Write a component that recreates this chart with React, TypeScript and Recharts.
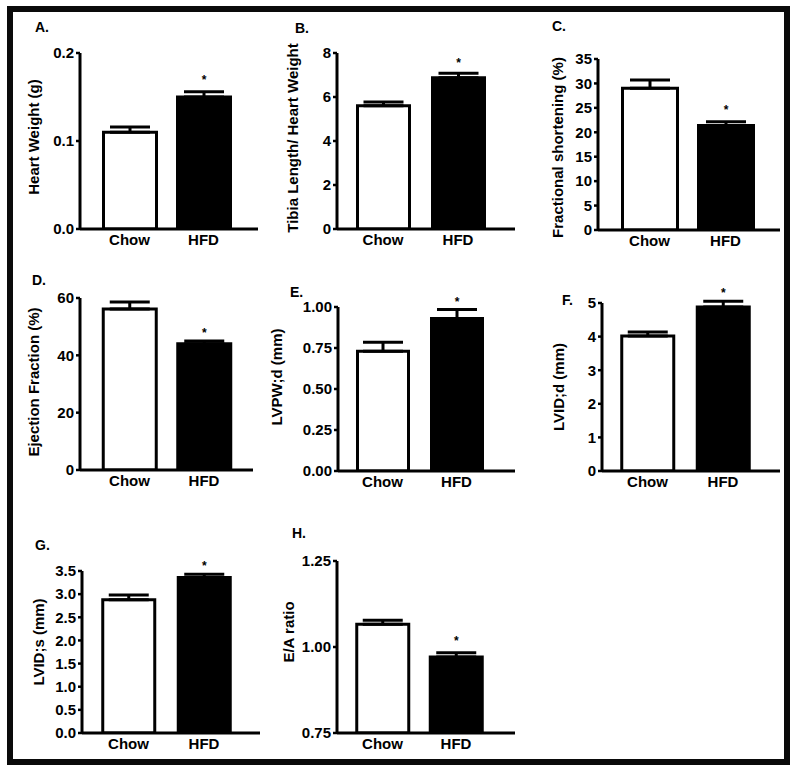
import React from 'react';
import { BarChart, Bar, XAxis, YAxis, ErrorBar, LabelList, Cell } from 'recharts';

// ---------- data ----------
const categories = ['Chow', 'HFD'];
const significance = ['', '*'];
const barFills = ['#ffffff', '#000000'];

const heartWeight = [0.11, 0.15];
const heartWeightErr = [0.006, 0.006];
const tibiaHeart = [5.6, 6.88];
const tibiaHeartErr = [0.17, 0.2];
const fractionalShortening = [29, 21.4];
const fractionalShorteningErr = [1.7, 0.75];
const ejectionFraction = [56.2, 44];
const ejectionFractionErr = [2.4, 1.0];
const lvpwd = [0.73, 0.93];
const lvpwdErr = [0.055, 0.055];
const lvidd = [4.02, 4.88];
const lviddErr = [0.12, 0.17];
const lvids = [2.88, 3.36];
const lvidsErr = [0.1, 0.07];
const eaRatio = [1.066, 0.971];
const eaRatioErr = [0.012, 0.012];

const ticksA = [0, 0.1, 0.2];
const ticksB = [0, 2, 4, 6, 8];
const ticksC = [0, 5, 10, 15, 20, 25, 30, 35];
const ticksD = [0, 20, 40, 60];
const ticksE = [0, 0.25, 0.5, 0.75, 1.0];
const ticksF = [0, 1, 2, 3, 4, 5];
const ticksG = [0, 0.5, 1.0, 1.5, 2.0, 2.5, 3.0, 3.5];
const ticksH = [0.75, 1.0, 1.25];

const panelLetters = ['A.', 'B.', 'C.', 'D.', 'E.', 'F.', 'G.', 'H.'];
const yLabels = [
  'Heart Weight (g)',
  'Tibia Length/ Heart Weight',
  'Fractional shortening (%)',
  'Ejection Fraction (%)',
  'LVPW;d (mm)',
  'LVID;d (mm)',
  'LVID;s (mm)',
  'E/A ratio',
];

// ---------- layout (positions / styles only) ----------
const FONT = '"Liberation Sans", Arial, sans-serif';
const Y_AXIS_W = 75;
const TOP_M = 20;
const X_AXIS_H = 30;
const RIGHT_M = 6;

type Layout = {
  axisX: number; axisRight: number; yTop: number; yBottom: number;
  padL: number; padR: number; barSize: number;
  labelDist: number; labelDy: number; starOffset: number;
  letterX: number; letterY: number;
};

const layouts: Layout[] = [
  { axisX: 80, axisRight: 258, yTop: 53, yBottom: 229, padL: 12.5, padR: 17.5, barSize: 53, labelDist: 47, labelDy: -4, starOffset: 13, letterX: 35, letterY: 32 },
  { axisX: 337, axisRight: 515, yTop: 53, yBottom: 229, padL: 8.5, padR: 19.5, barSize: 52, labelDist: 45, labelDy: -3, starOffset: 11, letterX: 295, letterY: 33 },
  { axisX: 598, axisRight: 780, yTop: 59, yBottom: 230, padL: 13.5, padR: 16.5, barSize: 55, labelDist: 41, labelDy: 3, starOffset: 11, letterX: 552, letterY: 31 },
  { axisX: 80, axisRight: 253, yTop: 298, yBottom: 470, padL: 12.25, padR: 11.75, barSize: 53, labelDist: 47, labelDy: -2, starOffset: 7, letterX: 32, letterY: 285 },
  { axisX: 338, axisRight: 515, yTop: 307, yBottom: 471, padL: 7.5, padR: 21.5, barSize: 51, labelDist: 62, labelDy: -12, starOffset: 12, letterX: 290, letterY: 297 },
  { axisX: 602, axisRight: 780, yTop: 303, yBottom: 471, padL: 7.75, padR: 19.25, barSize: 52, labelDist: 44, labelDy: 0, starOffset: 10, letterX: 562, letterY: 305 },
  { axisX: 82, axisRight: 260, yTop: 571, yBottom: 733, padL: 8.75, padR: 18.25, barSize: 52, labelDist: 44, labelDy: -10, starOffset: 7, letterX: 35, letterY: 550 },
  { axisX: 337, axisRight: 515, yTop: 561, yBottom: 733, padL: 8.75, padR: 22.25, barSize: 52, labelDist: 49, labelDy: -15, starOffset: 12, letterX: 292, letterY: 538 },
];

type PanelSpec = { values: number[]; errs: number[]; ticks: number[]; decimals: number };

const panels: PanelSpec[] = [
  { values: heartWeight, errs: heartWeightErr, ticks: ticksA, decimals: 1 },
  { values: tibiaHeart, errs: tibiaHeartErr, ticks: ticksB, decimals: 0 },
  { values: fractionalShortening, errs: fractionalShorteningErr, ticks: ticksC, decimals: 0 },
  { values: ejectionFraction, errs: ejectionFractionErr, ticks: ticksD, decimals: 0 },
  { values: lvpwd, errs: lvpwdErr, ticks: ticksE, decimals: 2 },
  { values: lvidd, errs: lviddErr, ticks: ticksF, decimals: 0 },
  { values: lvids, errs: lvidsErr, ticks: ticksG, decimals: 1 },
  { values: eaRatio, errs: eaRatioErr, ticks: ticksH, decimals: 2 },
];

const textStyle = { fill: '#000', fontFamily: FONT, fontWeight: 700, fontSize: 15 };

const makeYLabel = (text: string, dist: number, dy: number) => (props: any) => {
  const vb = props.viewBox || { x: 0, y: TOP_M, width: Y_AXIS_W, height: 100 };
  const cx = vb.x + vb.width - dist;
  const cy = vb.y + vb.height / 2 + dy;
  return (
    <text
      x={cx}
      y={cy}
      transform={`rotate(-90 ${cx} ${cy})`}
      textAnchor="middle"
      dominantBaseline="central"
      fill="#000"
      fontFamily={FONT}
      fontWeight={700}
      fontSize={15}
    >
      {text}
    </text>
  );
};

function Panel({ spec, layout, label }: { spec: PanelSpec; layout: Layout; label: string }) {
  const data = categories.map((name, i) => ({
    name,
    value: spec.values[i],
    err: [0, spec.errs[i]],
    sig: significance[i],
  }));
  const ticks = spec.ticks;
  const width = Y_AXIS_W + (layout.axisRight - layout.axisX) + RIGHT_M;
  const height = layout.yBottom - layout.yTop + TOP_M + X_AXIS_H;
  return (
    <div style={{ position: 'absolute', left: layout.axisX - Y_AXIS_W, top: layout.yTop - TOP_M }}>
      <BarChart width={width} height={height} data={data} margin={{ top: TOP_M, right: RIGHT_M, bottom: 0, left: 0 }}>
        <XAxis
          dataKey="name"
          type="category"
          height={X_AXIS_H}
          padding={{ left: layout.padL, right: layout.padR }}
          tickLine={false}
          tickSize={0}
          tickMargin={5}
          axisLine={{ stroke: '#000', strokeWidth: 3 }}
          tick={textStyle}
          interval={0}
        />
        <YAxis
          type="number"
          width={Y_AXIS_W}
          domain={[ticks[0], ticks[ticks.length - 1]]}
          ticks={ticks}
          allowDataOverflow
          interval={0}
          tickSize={4}
          tickMargin={2}
          tickLine={{ stroke: '#000', strokeWidth: 2.5 }}
          axisLine={{ stroke: '#000', strokeWidth: 3 }}
          tick={textStyle}
          tickFormatter={(v: number) => v.toFixed(spec.decimals)}
          label={{ content: makeYLabel(label, layout.labelDist, layout.labelDy) }}
        />
        <Bar dataKey="value" barSize={layout.barSize} stroke="#000" strokeWidth={3} isAnimationActive={false}>
          {data.map((d, i) => (
            <Cell key={d.name} fill={barFills[i]} />
          ))}
          <ErrorBar dataKey="err" direction="y" width={20} stroke="#000" strokeWidth={3} isAnimationActive={false} />
          <LabelList
            dataKey="sig"
            position="top"
            offset={layout.starOffset}
            fill="#000"
            fontFamily={FONT}
            fontWeight={700}
            fontSize={12}
          />
        </Bar>
      </BarChart>
    </div>
  );
}

export default function App() {
  return (
    <div style={{ position: 'absolute', left: 0, top: 0, width: 800, height: 778, background: '#fff', overflow: 'hidden' }}>
      <div
        style={{
          position: 'absolute',
          left: 7,
          top: 6,
          width: 783,
          height: 759,
          border: '6px solid #0a0a0a',
          boxSizing: 'border-box',
        }}
      />
      {panels.map((spec, i) => (
        <Panel key={i} spec={spec} layout={layouts[i]} label={yLabels[i]} />
      ))}
      <svg width={800} height={778} style={{ position: 'absolute', left: 0, top: 0, pointerEvents: 'none' }}>
        {panelLetters.map((t, i) => (
          <text key={t} x={layouts[i].letterX} y={layouts[i].letterY} fill="#000" fontFamily={FONT} fontWeight={700} fontSize={14}>
            {t}
          </text>
        ))}
      </svg>
    </div>
  );
}
